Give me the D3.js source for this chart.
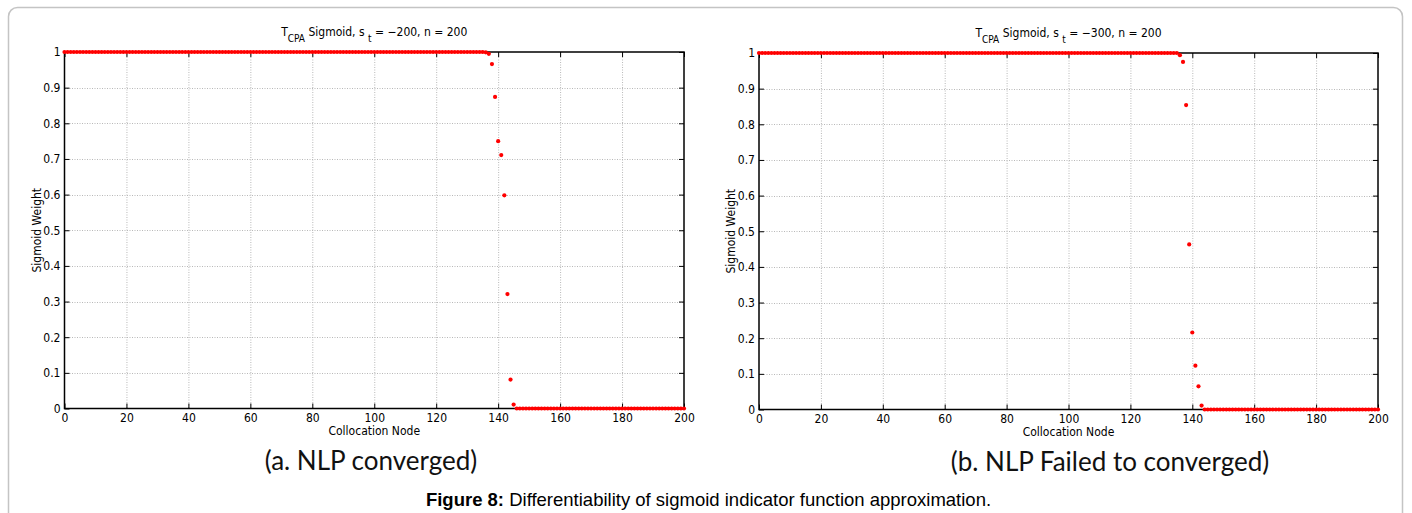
<!DOCTYPE html>
<html>
<head>
<meta charset="utf-8">
<script src="https://cdn.jsdelivr.net/npm/d3@7"></script>
<style>
  body { margin: 0; background: #fff; }
  svg { display: block; }
  .tick text { font-family: "Liberation Sans Narrow", "DejaVu Sans Condensed", sans-serif; font-size: 12px; fill: #000; }
  .tick line { stroke: #000; stroke-width: 1; }
  .grid line { stroke: #b8b8b8; stroke-width: 1; stroke-dasharray: 1,1.5; }
  .lbl { font-family: "Liberation Sans Narrow", "DejaVu Sans Condensed", sans-serif; font-size: 12px; fill: #000; }
  .cap { font-family: Lato, "Open Sans", sans-serif; font-size: 26px; fill: #111; }
  .fig { font-family: "Liberation Sans", Arial, sans-serif; font-size: 18.5px; fill: #000; }
</style>
</head>
<body>
<script>
// collocation nodes 0..200
var nodes = d3.range(0, 201)

var xTicks = [0, 20, 40, 60, 80, 100, 120, 140, 160, 180, 200]
var yTicks = [0, 0.1, 0.2, 0.3, 0.4, 0.5, 0.6, 0.7, 0.8, 0.9, 1]

// sigmoid weight, s_t = -200 (NLP converged)
var weightA = [
  1,1,1,1,1,1,1,1,1,1, 1,1,1,1,1,1,1,1,1,1, 1,1,1,1,1,1,1,1,1,1, 1,1,1,1,1,1,1,1,1,1,
  1,1,1,1,1,1,1,1,1,1, 1,1,1,1,1,1,1,1,1,1, 1,1,1,1,1,1,1,1,1,1, 1,1,1,1,1,1,1,1,1,1,
  1,1,1,1,1,1,1,1,1,1, 1,1,1,1,1,1,1,1,1,1, 1,1,1,1,1,1,1,1,1,1, 1,1,1,1,1,1,1,1,1,1,
  1,1,1,1,1,1,1,1,1,1, 1,1,1,1,1,1,0.999,
  0.995,0.966,0.874,0.750,0.711,0.598,0.321,0.081,0.011,
  0,0,0,0,0,0,0,0,0,0, 0,0,0,0,0,0,0,0,0,0, 0,0,0,0,0,0,0,0,0,0, 0,0,0,0,0,0,0,0,0,0,
  0,0,0,0,0,0,0,0,0,0, 0,0,0,0,0
]

// sigmoid weight, s_t = -300 (NLP failed)
var weightB = [
  1,1,1,1,1,1,1,1,1,1, 1,1,1,1,1,1,1,1,1,1, 1,1,1,1,1,1,1,1,1,1, 1,1,1,1,1,1,1,1,1,1,
  1,1,1,1,1,1,1,1,1,1, 1,1,1,1,1,1,1,1,1,1, 1,1,1,1,1,1,1,1,1,1, 1,1,1,1,1,1,1,1,1,1,
  1,1,1,1,1,1,1,1,1,1, 1,1,1,1,1,1,1,1,1,1, 1,1,1,1,1,1,1,1,1,1, 1,1,1,1,1,1,1,1,1,1,
  1,1,1,1,1,1,1,1,1,1, 1,1,1,1,1,1,
  0.994,0.975,0.854,0.463,0.216,0.123,0.065,0.011,
  0,0,0,0,0,0,0,0,0,0, 0,0,0,0,0,0,0,0,0,0, 0,0,0,0,0,0,0,0,0,0, 0,0,0,0,0,0,0,0,0,0,
  0,0,0,0,0,0,0,0,0,0, 0,0,0,0,0,0,0
]

var W = 1412, H = 513

var svg = d3.select('body').append('svg').attr('width', W).attr('height', H)
svg.append('rect').attr('width', W).attr('height', H).attr('fill', '#fff')

// outer frame of the figure
svg.append('rect')
  .attr('x', 8.5).attr('y', 7.5).attr('width', 1394).attr('height', 530)
  .attr('rx', 9).attr('fill', 'none').attr('stroke', '#c4c4c4').attr('stroke-width', 1.5)

function panel(box, data, st, caption, capX){
  var g = svg.append('g')
  var x = d3.scaleLinear().domain([0, 200]).range([box.left, box.right])
  var y = d3.scaleLinear().domain([0, 1]).range([box.bottom, box.top])

  // grid
  var grid = g.append('g').attr('class', 'grid')
  grid.selectAll('.gx').data(xTicks.slice(1, -1)).enter().append('line')
    .attr('x1', d => x(d) + 0.5).attr('x2', d => x(d) + 0.5)
    .attr('y1', box.top).attr('y2', box.bottom)
  grid.selectAll('.gy').data(yTicks.slice(1, -1)).enter().append('line')
    .attr('y1', d => Math.round(y(d)) + 0.5).attr('y2', d => Math.round(y(d)) + 0.5)
    .attr('x1', box.left).attr('x2', box.right)

  // axes with inward ticks on all four sides
  var ax = g.append('g').attr('transform', 'translate(0,' + box.bottom + ')')
    .call(d3.axisBottom(x).tickValues(xTicks).tickSize(-5).tickPadding(5).tickFormat(d3.format('d')))
  var ay = g.append('g').attr('transform', 'translate(' + box.left + ',0)')
    .call(d3.axisLeft(y).tickValues(yTicks).tickSize(-5).tickPadding(4).tickFormat(d3.format('~g')))
  var at = g.append('g').attr('transform', 'translate(0,' + box.top + ')')
    .call(d3.axisTop(x).tickValues(xTicks).tickSize(-5).tickFormat(''))
  var ar = g.append('g').attr('transform', 'translate(' + box.right + ',0)')
    .call(d3.axisRight(y).tickValues(yTicks).tickSize(-5).tickFormat(''))
  ;[ax, ay, at, ar].forEach(a => a.select('.domain').remove())

  g.append('rect')
    .attr('x', box.left).attr('y', box.top)
    .attr('width', box.right - box.left).attr('height', box.bottom - box.top)
    .attr('fill', 'none').attr('stroke', '#000').attr('stroke-width', 1.5)

  var cx = (box.left + box.right) / 2

  // title with subscripts
  var t = g.append('text').attr('class', 'lbl').attr('x', cx).attr('y', box.top - 16)
    .attr('text-anchor', 'middle')
  t.append('tspan').text('T')
  t.append('tspan').attr('dy', 6).attr('font-size', '10px').text('CPA')
  t.append('tspan').attr('dy', -6).text(' Sigmoid, s ')
  t.append('tspan').attr('dy', 6).attr('font-size', '10px').text('t')
  t.append('tspan').attr('dy', -6).text(' = \u2212' + st + ', n = 200')

  g.append('text').attr('class', 'lbl')
    .attr('transform', 'translate(' + (box.left - 24) + ',' + ((box.top + box.bottom) / 2) + ') rotate(-90)')
    .attr('text-anchor', 'middle').text('Sigmoid Weight')

  g.append('text').attr('class', 'lbl').attr('x', cx).attr('y', box.bottom + 26)
    .attr('text-anchor', 'middle').text('Collocation Node')

  g.append('text').attr('class', 'cap').attr('x', capX).attr('y', box.bottom + 61)
    .attr('text-anchor', 'middle').text(caption)

  // dots
  g.append('g').selectAll('circle').data(nodes).enter().append('circle')
    .attr('cx', d => x(d)).attr('cy', d => y(data[d]))
    .attr('r', 2.1).attr('fill', '#ff0000')
}

panel({left: 64.5, right: 684, top: 52, bottom: 408.5}, weightA, 200, '(a. NLP converged)', 371)
panel({left: 759, right: 1378, top: 53, bottom: 409.5}, weightB, 300, '(b. NLP Failed to converged)', 1110)

var fc = svg.append('text').attr('class', 'fig').attr('x', 708.5).attr('y', 506).attr('text-anchor', 'middle')
fc.append('tspan').attr('font-weight', 'bold').text('Figure 8:')
fc.append('tspan').text(' Differentiability of sigmoid indicator function approximation.')
</script>
</body>
</html>
